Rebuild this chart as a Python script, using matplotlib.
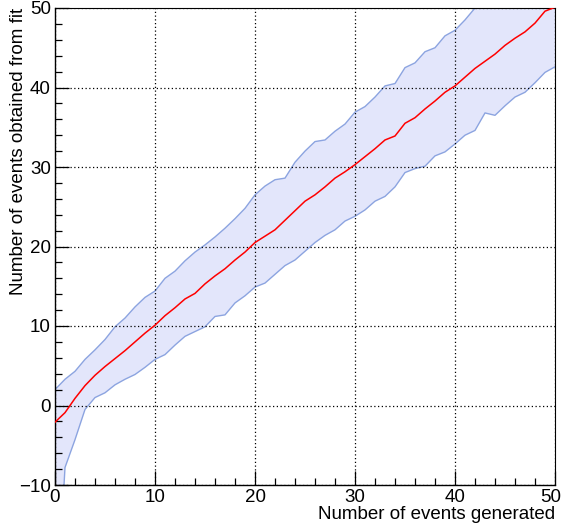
import numpy as np
import matplotlib
matplotlib.use("Agg")
import matplotlib.pyplot as plt
import matplotlib.transforms as mtransforms

plt.rcParams['font.family'] = ['Liberation Sans', 'DejaVu Sans']

# number of events generated
n_gen = list(range(0, 51))

# mean number of events obtained from fit
fit_mean = [-2.1, -0.9, 0.9, 2.5, 3.8, 4.9, 5.9, 6.9, 8.0, 9.1,
            10.1, 11.3, 12.3, 13.4, 14.1, 15.3, 16.3, 17.2, 18.3, 19.3,
            20.5, 21.3, 22.1, 23.3, 24.5, 25.7, 26.5, 27.5, 28.6, 29.4,
            30.3, 31.3, 32.3, 33.4, 33.9, 35.5, 36.2, 37.3, 38.3, 39.4,
            40.2, 41.3, 42.4, 43.3, 44.2, 45.3, 46.2, 47.0, 48.1, 49.6,
            50.1]

# upper edge of band
fit_upper = [2.0, 3.3, 4.3, 5.8, 7.0, 8.3, 9.9, 11.0, 12.4, 13.6,
             14.4, 16.0, 16.9, 18.2, 19.3, 20.2, 21.2, 22.3, 23.5, 24.8,
             26.5, 27.6, 28.4, 28.6, 30.6, 32.0, 33.2, 33.4, 34.5, 35.4,
             36.9, 37.6, 38.8, 40.2, 40.5, 42.5, 43.1, 44.5, 45.0, 46.5,
             47.2, 48.5, 50.0, 51.2, 52.3, 53.4, 54.5, 55.6, 56.7, 57.8,
             58.9]

# lower edge of band
fit_lower = [-30.0, -7.8, -4.3, -0.5, 1.0, 1.6, 2.6, 3.3, 3.9, 4.8,
             5.8, 6.4, 7.6, 8.7, 9.3, 9.9, 11.2, 11.4, 12.9, 13.8,
             14.9, 15.4, 16.5, 17.6, 18.3, 19.4, 20.5, 21.4, 22.1, 23.2,
             23.8, 24.6, 25.7, 26.3, 27.5, 29.3, 29.8, 30.1, 31.4, 31.9,
             32.9, 34.0, 34.6, 36.8, 36.5, 37.7, 38.8, 39.4, 40.6, 41.9,
             42.6]

W, H = 563, 527
fig = plt.figure(figsize=(W/100, H/100), dpi=100)
ax = fig.add_axes([55/W, 1-485/H, 500/W, 477/H])

band_edge = '#8ca4e0'
ax.fill_between(n_gen, fit_lower, fit_upper, facecolor='#e3e6fb', edgecolor='none', zorder=1)
ax.plot(n_gen, fit_upper, color=band_edge, lw=1.0, zorder=2)
ax.plot(n_gen, fit_lower, color=band_edge, lw=1.0, zorder=2)
ax.plot(n_gen, fit_mean, color='#ff0000', lw=1.1, zorder=3)

ax.set_xlim(0, 50)
ax.set_ylim(-10, 50)
ax.set_xticks(range(0, 51, 10))
ax.set_xticks(range(0, 51, 2), minor=True)
ax.set_yticks(range(-10, 51, 10))
ax.set_yticks(range(-10, 51, 2), minor=True)

ax.grid(True, which='major', color='black', linestyle=(0, (1, 2)), lw=0.9, zorder=4)
ax.set_axisbelow(False)

ax.tick_params(which='both', direction='in', top=False, right=False, labelsize=13.5, pad=3)
ax.tick_params(which='major', length=10, width=0.9)
ax.tick_params(which='minor', length=5, width=0.9)

for s in ['left', 'bottom']:
    ax.spines[s].set_linewidth(1.0)
for s in ['top', 'right']:
    ax.spines[s].set_linewidth(0.8)

# nudge the last x label so it stays inside the canvas
last = ax.get_xticklabels()[-1]
last.set_transform(last.get_transform() +
                   mtransforms.ScaledTranslation(-4/100, 0, fig.dpi_scale_trans))

fig.text(555/W, 1-519/H, 'Number of events generated', fontsize=13.5,
         ha='right', va='baseline')
fig.text(19/W, 1-8/H, 'Number of events obtained from fit', fontsize=13.5,
         rotation=90, ha='center', va='top')

fig.savefig('out.png', dpi=100)
